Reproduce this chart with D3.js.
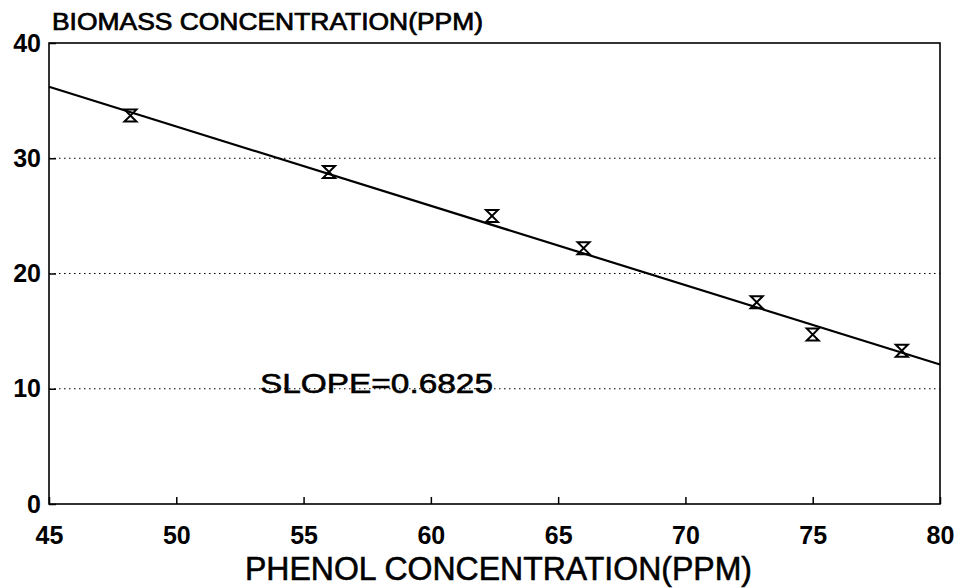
<!DOCTYPE html>
<html>
<head>
<meta charset="utf-8">
<script src="https://cdn.jsdelivr.net/npm/d3@7"></script>
<style>
  body { margin: 0; background: #fff; }
  text { font-family: "Liberation Sans", Arial, sans-serif; fill: #000; }
</style>
</head>
<body>
<script>
// measured points
const phenol = [48.2, 56.0, 62.4, 66.0, 72.8, 75.0, 78.5];
const biomass = [33.7, 28.8, 25.0, 22.2, 17.5, 14.7, 13.3];
// fitted line end points
const fitX = [45, 80];
const fitY = [36.2, 12.1];
const xTicks = [45, 50, 55, 60, 65, 70, 75, 80];
const yTicks = [0, 10, 20, 30, 40];

const W = 962, H = 588;
const margin = { left: 49, right: 22, top: 43, bottom: 84 };

const svg = d3.select("body").append("svg")
    .attr("width", W)
    .attr("height", H);

const x = d3.scaleLinear().domain([45, 80]).range([margin.left, W - margin.right]);
const y = d3.scaleLinear().domain([0, 40]).range([H - margin.bottom, margin.top]);

// dotted grid lines
svg.append("g")
    .selectAll("line")
    .data(yTicks.filter(d => d > 0 && d < 40))
    .enter().append("line")
    .attr("x1", x(45)).attr("x2", x(80))
    .attr("y1", d => y(d)).attr("y2", d => y(d))
    .attr("stroke", "#000")
    .attr("stroke-width", 1.2)
    .attr("stroke-dasharray", "1.5,3.5");

// frame
svg.append("rect")
    .attr("x", x(45)).attr("y", y(40))
    .attr("width", x(80) - x(45)).attr("height", y(0) - y(40))
    .attr("fill", "none")
    .attr("stroke", "#000")
    .attr("stroke-width", 1.6);

// x axis: inward ticks, labels below
const xAxis = d3.axisBottom(x).tickValues(xTicks).tickSizeInner(-7).tickSizeOuter(0).tickPadding(17);
const gx = svg.append("g").attr("transform", `translate(0,${y(0)})`).call(xAxis);
gx.select(".domain").remove();
gx.selectAll("line").attr("stroke-width", 1.5);
gx.selectAll("text")
    .style("font-size", "25px").style("font-weight", "bold")
    .attr("dy", "0.9em");

// y axis: inward ticks, labels left
const yAxis = d3.axisLeft(y).tickValues(yTicks).tickSizeInner(-7).tickSizeOuter(0).tickPadding(8);
const gy = svg.append("g").attr("transform", `translate(${x(45)},0)`).call(yAxis);
gy.select(".domain").remove();
gy.selectAll("line").attr("stroke-width", 1.5);
gy.selectAll("text")
    .style("font-size", "25px").style("font-weight", "bold");

// fitted line
const line = d3.line().x(d => x(d[0])).y(d => y(d[1]));
svg.append("path")
    .datum(d3.zip(fitX, fitY))
    .attr("d", line)
    .attr("fill", "none")
    .attr("stroke", "#000")
    .attr("stroke-width", 2.2);

// hourglass markers
const s = 6;
svg.append("g")
    .selectAll("path")
    .data(d3.zip(phenol, biomass))
    .enter().append("path")
    .attr("transform", d => `translate(${x(d[0])},${y(d[1])})`)
    .attr("d", `M${-s},${-s}L${s},${-s}L${-s},${s}L${s},${s}Z`)
    .attr("fill", "none")
    .attr("stroke", "#000")
    .attr("stroke-width", 2);

// titles
svg.append("text")
    .attr("x", 52).attr("y", 30)
    .attr("textLength", 431).attr("lengthAdjust", "spacingAndGlyphs")
    .style("font-size", "23px")
    .style("stroke", "#000").style("stroke-width", 0.7)
    .text("BIOMASS CONCENTRATION(PPM)");

svg.append("text")
    .attr("x", 245).attr("y", 580)
    .attr("textLength", 507).attr("lengthAdjust", "spacingAndGlyphs")
    .style("font-size", "34px")
    .style("stroke", "#000").style("stroke-width", 0.6)
    .text("PHENOL CONCENTRATION(PPM)");

svg.append("text")
    .attr("x", 260).attr("y", 393)
    .attr("textLength", 233).attr("lengthAdjust", "spacingAndGlyphs")
    .style("font-size", "28px")
    .style("stroke", "#000").style("stroke-width", 0.6)
    .text("SLOPE=0.6825");
</script>
</body>
</html>
